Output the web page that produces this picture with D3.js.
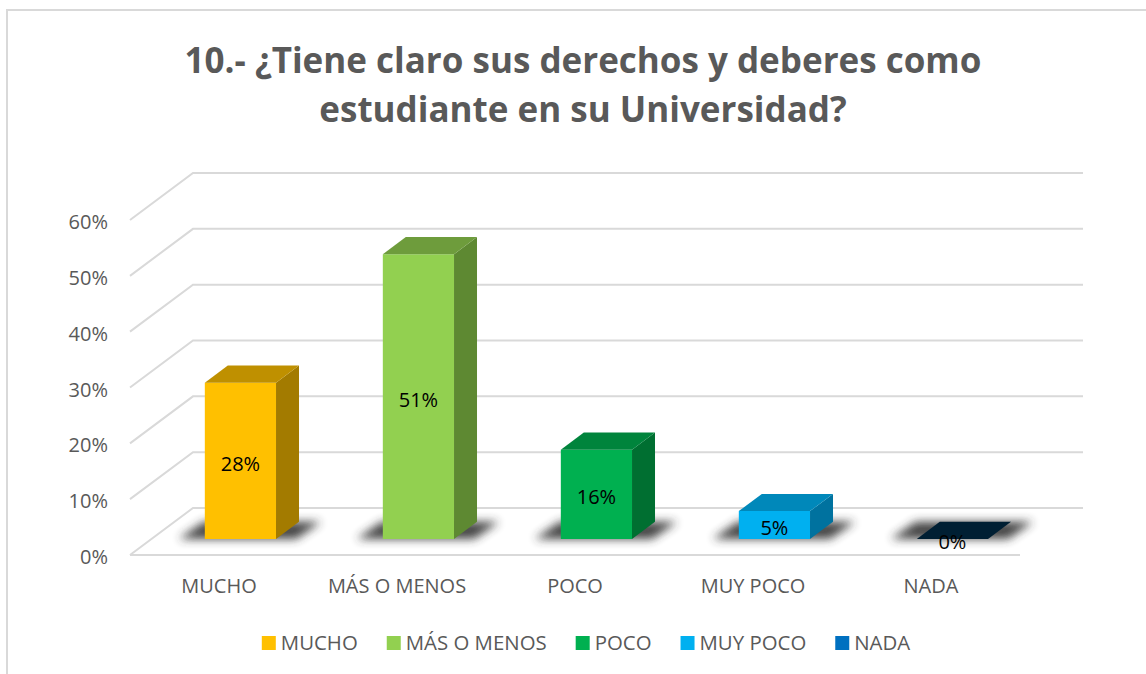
<!DOCTYPE html>
<html lang="es">
<head>
<meta charset="utf-8">
<script src="https://cdn.jsdelivr.net/npm/d3@7"></script>
<style>
  body { margin: 0; background: #fff; }
  svg text { font-family: "Open Sans", sans-serif; }
</style>
</head>
<body>
<div id="vis"></div>
<script>
// Datos
const CATEGORIAS = ["MUCHO", "MÁS O MENOS", "POCO", "MUY POCO", "NADA"];
const PORCENTAJES = [0.28, 0.51, 0.16, 0.05, 0.00];
const ETIQUETAS = ["28%", "51%", "16%", "5%", "0%"];
const TICKS_Y = [0, 0.1, 0.2, 0.3, 0.4, 0.5, 0.6];
const TITULO = ["10.- ¿Tiene claro sus derechos y deberes como", "estudiante en su Universidad?"];

// Colores (frente, techo y lado de cada barra)
const COLOR_FRENTE = ["#FFC000", "#92D050", "#00B050", "#00B0F0", "#0070C0"];
const COLOR_TECHO = ["#BF9000", "#6E9C3C", "#00843C", "#0088BA", "#001F33"];
const COLOR_LADO = ["#A37B00", "#5E8932", "#006F31", "#00729F", "#003F6E"];

const WIDTH = 1146;
const HEIGHT = 674;
const SVG = d3.select("#vis").append("svg").attr("width", WIDTH).attr("height", HEIGHT);

// Plano frontal y profundidad del "3D"
const X0 = 130;
const Y0 = 555;
const ANCHO_PLANO = 890;
const PROF = { dx: 63, dy: -47 };
const Z_FRENTE = 0.34;
const Z_FONDO = 0.705;
const GRIS = "#595959";

const escalaX = d3.scaleBand()
    .domain(CATEGORIAS)
    .range([0, ANCHO_PLANO])
    .paddingInner(0.6)
    .paddingOuter(0.3);

const escalaY = d3.scaleLinear()
    .domain([0, 0.6])
    .range([0, 335]);

// punto en el espacio: x a lo largo del frente, z profundidad (0..1), v valor
function punto(x, z, v) {
    return [X0 + x + z * PROF.dx, Y0 + z * PROF.dy - escalaY(v)];
}
const linea = d3.line();

// sombra difusa
const defs = SVG.append("defs");
defs.append("filter").attr("id", "sombra")
    .attr("x", "-50%").attr("y", "-100%").attr("width", "200%").attr("height", "300%")
    .append("feGaussianBlur").attr("stdDeviation", 5);
defs.append("filter").attr("id", "suave")
    .append("feGaussianBlur").attr("stdDeviation", 0.5);

// borde del area del grafico
SVG.append("rect")
    .attr("x", 7).attr("y", 10)
    .attr("width", WIDTH + 20).attr("height", HEIGHT + 20)
    .attr("fill", "none")
    .attr("stroke", "#d9d9d9")
    .attr("stroke-width", 2);

// titulo
SVG.append("g").selectAll("text")
    .data(TITULO)
    .join("text")
    .attr("x", 583)
    .attr("y", (d, i) => 73 + i * 49)
    .attr("text-anchor", "middle")
    .attr("font-size", 35)
    .attr("font-weight", "bold")
    .attr("fill", GRIS)
    .text(d => d);

// lineas de division (pared izquierda + pared del fondo)
const gGrid = SVG.append("g").attr("filter", "url(#suave)");
gGrid.selectAll("path.grid")
    .data(TICKS_Y)
    .join("path")
    .attr("class", "grid")
    .attr("d", v => linea([punto(0, 0, v), punto(0, 1, v), punto(ANCHO_PLANO, 1, v)]))
    .attr("fill", "none")
    .attr("stroke", "#d9d9d9")
    .attr("stroke-width", 2);
// borde frontal del piso
gGrid.append("path")
    .attr("d", linea([punto(0, 0, 0), punto(ANCHO_PLANO, 0, 0)]))
    .attr("fill", "none")
    .attr("stroke", "#d9d9d9")
    .attr("stroke-width", 2);

// etiquetas eje Y
SVG.append("g").selectAll("text")
    .data(TICKS_Y)
    .join("text")
    .attr("x", 108)
    .attr("y", v => punto(0, 0, v)[1] + 9)
    .attr("text-anchor", "end")
    .attr("font-size", 20)
    .attr("fill", GRIS)
    .text(d3.format(".0%"));

const datos = CATEGORIAS.map((c, i) => ({ cat: c, valor: PORCENTAJES[i], etiqueta: ETIQUETAS[i], i: i }));
const bw = escalaX.bandwidth();

// sombras bajo cada barra
SVG.append("g").selectAll("path")
    .data(datos)
    .join("path")
    .attr("d", d => {
        const x = escalaX(d.cat);
        return linea([
            punto(x - 26, Z_FRENTE, 0), punto(x + bw + 20, Z_FRENTE, 0),
            punto(x + bw + 22, Z_FONDO, 0), punto(x - 24, Z_FONDO, 0)
        ]) + "Z";
    })
    .attr("fill", "#303030")
    .attr("opacity", 0.9)
    .attr("filter", "url(#sombra)");

// barras 3D
const gBarras = SVG.append("g").selectAll("g.barra")
    .data(datos)
    .join("g")
    .attr("class", "barra");

gBarras.append("path")
    .attr("d", d => {
        const x = escalaX(d.cat);
        return linea([punto(x, Z_FRENTE, 0), punto(x + bw, Z_FRENTE, 0),
            punto(x + bw, Z_FRENTE, d.valor), punto(x, Z_FRENTE, d.valor)]) + "Z";
    })
    .attr("fill", d => COLOR_FRENTE[d.i]);

gBarras.append("path")
    .attr("d", d => {
        const x = escalaX(d.cat);
        return linea([punto(x + bw, Z_FRENTE, 0), punto(x + bw, Z_FONDO, 0),
            punto(x + bw, Z_FONDO, d.valor), punto(x + bw, Z_FRENTE, d.valor)]) + "Z";
    })
    .attr("fill", d => COLOR_LADO[d.i]);

gBarras.append("path")
    .attr("d", d => {
        const x = escalaX(d.cat);
        return linea([punto(x, Z_FRENTE, d.valor), punto(x + bw, Z_FRENTE, d.valor),
            punto(x + bw, Z_FONDO, d.valor), punto(x, Z_FONDO, d.valor)]) + "Z";
    })
    .attr("fill", d => COLOR_TECHO[d.i]);

// etiquetas de datos
gBarras.append("text")
    .attr("x", d => punto(escalaX(d.cat) + bw / 2, Z_FRENTE, 0)[0])
    .attr("y", d => punto(0, Z_FRENTE, d.valor / 2)[1] + 10)
    .attr("text-anchor", "middle")
    .attr("font-size", 20)
    .attr("fill", "#000")
    .text(d => d.etiqueta);

// etiquetas de categorias
SVG.append("g").selectAll("text")
    .data(CATEGORIAS)
    .join("text")
    .attr("x", c => X0 + escalaX(c) + bw / 2)
    .attr("y", 593)
    .attr("text-anchor", "middle")
    .attr("font-size", 20)
    .attr("fill", GRIS)
    .text(c => c);

// leyenda
const CUADRO = 14;
const gLeyenda = SVG.append("g");
const items = gLeyenda.selectAll("g")
    .data(datos)
    .join("g");
items.append("rect")
    .attr("width", CUADRO).attr("height", CUADRO)
    .attr("y", 636)
    .attr("fill", d => COLOR_FRENTE[d.i]);
items.append("text")
    .attr("x", CUADRO + 5)
    .attr("y", 650)
    .attr("font-size", 20.4)
    .attr("fill", GRIS)
    .text(d => d.cat);

const anchos = items.nodes().map(n => CUADRO + 5 + d3.select(n).select("text").node().getComputedTextLength());
const total = d3.sum(anchos) + 29 * (anchos.length - 1);
let cursor = 586 - total / 2;
items.attr("transform", (d, i) => {
    const x = cursor;
    cursor += anchos[i] + 29;
    return `translate(${x},0)`;
});
</script>
</body>
</html>
